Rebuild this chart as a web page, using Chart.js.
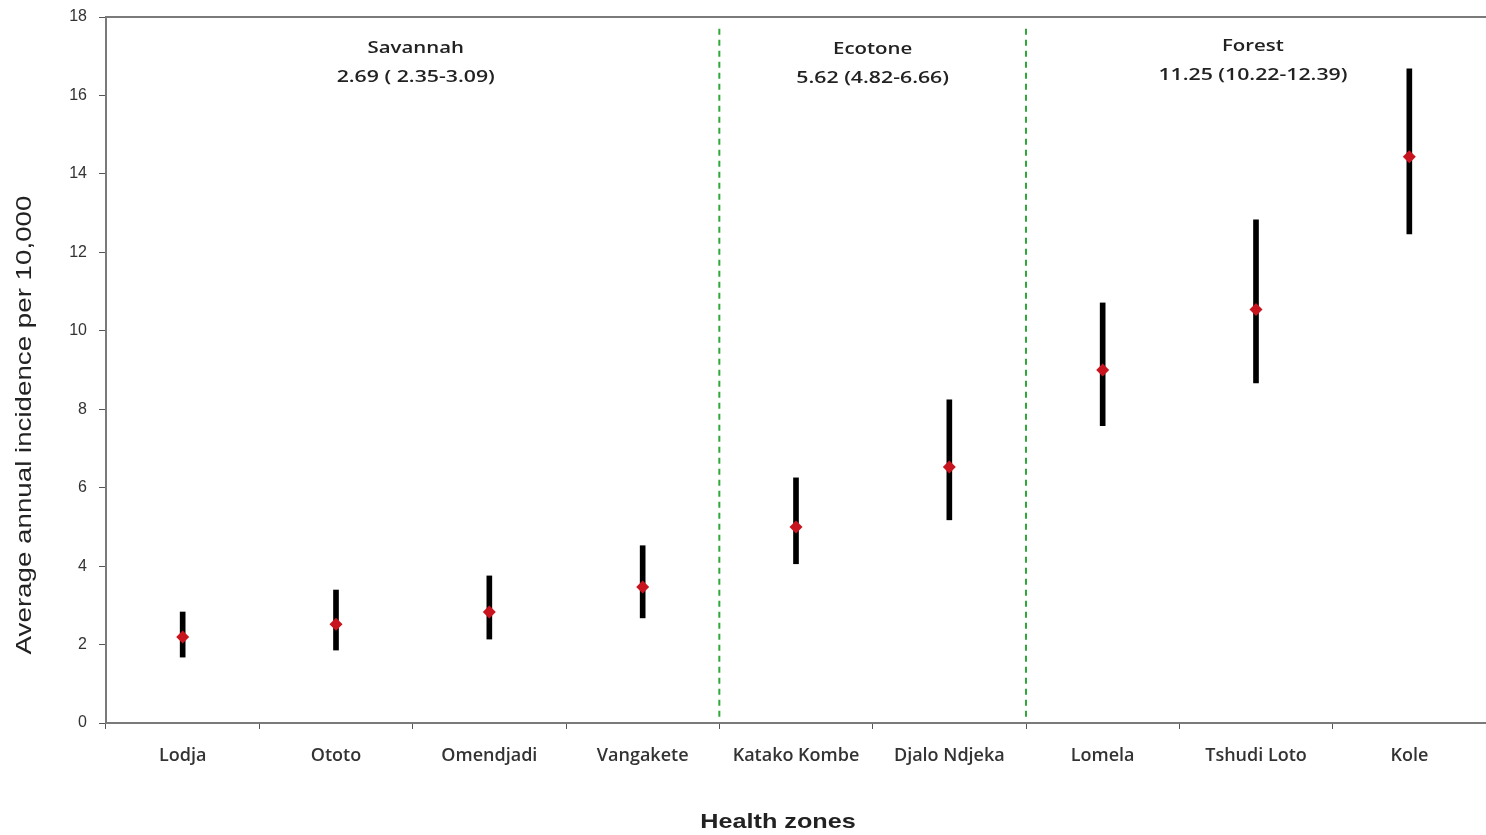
<!DOCTYPE html>
<html>
<head>
<meta charset="utf-8">
<script src="https://cdn.jsdelivr.net/npm/chart.js@4.4.1/dist/chart.umd.min.js"></script>
<style>
html,body{margin:0;padding:0;background:#fff;}
#wrap{width:1486px;height:835px;position:relative;}
</style>
</head>
<body>
<div id="wrap"><canvas id="c" width="1486" height="835"></canvas></div>
<script>
const categories = ['Lodja','Ototo','Omendjadi','Vangakete','Katako Kombe','Djalo Ndjeka','Lomela','Tshudi Loto','Kole'];
const meanValues = [2.19, 2.52, 2.83, 3.47, 5.00, 6.53, 9.00, 10.54, 14.44];
const lowerValues = [1.68, 1.86, 2.14, 2.68, 4.06, 5.18, 7.58, 8.67, 12.47];
const upperValues = [2.83, 3.39, 3.75, 4.52, 6.25, 8.24, 10.71, 12.83, 16.68];
const yTicks = [0, 2, 4, 6, 8, 10, 12, 14, 16, 18];
const zoneNames = ['Savannah', 'Ecotone', 'Forest'];
const zoneStats = ['2.69 ( 2.35-3.09)', '5.62 (4.82-6.66)', '11.25 (10.22-12.39)'];
const zoneCenters = [1.52, 4.5, 6.98];    // category positions of zone labels
const zoneDividers = [3.5, 5.5];          // category boundaries
const yTitle = 'Average annual incidence per 10,000';
const xTitle = 'Health zones';

const ranges = lowerValues.map((l, i) => [l, upperValues[i]]);

function stretchText(ctx, text, x, y, sx) {
  ctx.save(); ctx.translate(x, y); ctx.scale(sx, 1); ctx.fillText(text, 0, 0); ctx.restore();
}

const overlay = {
  id: 'overlay',
  afterDatasetsDraw(chart) {
    const ctx = chart.ctx, xs = chart.scales.x, ys = chart.scales.y, ca = chart.chartArea;
    const step = xs.getPixelForValue(1) - xs.getPixelForValue(0);
    const pos = c => xs.getPixelForValue(Math.floor(c)) + step * (c - Math.floor(c));
    ctx.save();
    // frame top line
    ctx.strokeStyle = '#7a7a7a'; ctx.lineWidth = 2;
    ctx.beginPath(); ctx.moveTo(ca.left, ca.top); ctx.lineTo(ca.right, ca.top); ctx.stroke();
    // dividers
    ctx.strokeStyle = '#2fa83a'; ctx.lineWidth = 2; ctx.setLineDash([6, 5]);
    zoneDividers.forEach(d => {
      const x = pos(d);
      ctx.beginPath(); ctx.moveTo(x, ys.getPixelForValue(17.7)); ctx.lineTo(x, ys.getPixelForValue(0.1)); ctx.stroke();
    });
    ctx.setLineDash([]);
    // zone labels
    ctx.fillStyle = '#222'; ctx.textAlign = 'center'; ctx.textBaseline = 'middle';
    ctx.font = '600 17px "Open Sans"';
    const dy = [0, 1, -2];
    zoneNames.forEach((n, i) => {
      const x = pos(zoneCenters[i]);
      stretchText(ctx, n, x, ca.top + 31 + dy[i], 1.2);
      stretchText(ctx, zoneStats[i], x, ca.top + 60 + dy[i], 1.25);
    });
    // axis titles
    ctx.font = '22px "Liberation Sans"'; ctx.fillStyle = '#222';
    ctx.save(); ctx.translate(25, 425); ctx.rotate(-Math.PI / 2); ctx.scale(1.26, 1); ctx.fillText(yTitle, 0, 0); ctx.restore();
    ctx.font = 'bold 21px "Liberation Sans"';
    stretchText(ctx, xTitle, 778, 822, 1.2);
    ctx.restore();
  }
};

function zeroPad(s) { s.paddingTop = 0; s.paddingBottom = 0; s.paddingLeft = 0; s.paddingRight = 0; }

new Chart(document.getElementById('c'), {
  type: 'bar',
  data: {
    labels: categories,
    datasets: [
      {
        type: 'line', data: meanValues, showLine: false,
        pointStyle: 'rectRot', pointRadius: 6.5, pointBackgroundColor: '#c8141e', pointBorderColor: '#c8141e',
        pointBorderWidth: 0, order: 0
      },
      {
        type: 'bar', data: ranges, backgroundColor: '#000', borderWidth: 0, barThickness: 5, grouped: false, order: 1
      }
    ]
  },
  options: {
    responsive: false, animation: false, devicePixelRatio: 1,
    layout: { autoPadding: false, padding: { top: 17, right: -3, left: 0, bottom: 0 } },
    plugins: { legend: { display: false }, tooltip: { enabled: false } },
    scales: {
      x: {
        offset: true,
        grid: { offset: true, drawOnChartArea: false, drawTicks: true, tickLength: 6, color: '#555', lineWidth: 1 },
        border: { color: '#7a7a7a', width: 2 },
        ticks: { color: '#333', font: { family: 'Open Sans', size: 18, weight: '600' }, padding: 16, maxRotation: 0, autoSkip: false },
        afterFit(s) { s.height = 112; zeroPad(s); }
      },
      y: {
        min: 0, max: 18,
        afterBuildTicks(s) { s.ticks = yTicks.map(v => ({ value: v })); },
        grid: { drawOnChartArea: false, tickLength: 7, color: '#555', lineWidth: 1 },
        border: { color: '#7a7a7a', width: 2 },
        ticks: { color: '#333', font: { family: 'Liberation Sans', size: 16 }, padding: 12 },
        afterFit(s) { s.width = 106; zeroPad(s); }
      }
    }
  },
  plugins: [overlay]
});
</script>
</body>
</html>
